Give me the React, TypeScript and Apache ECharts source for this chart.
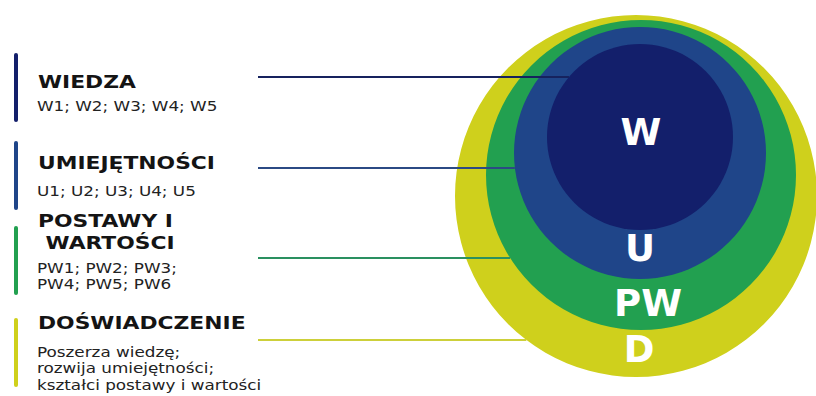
import React, { useEffect, useRef } from "react";
import * as echarts from "echarts";

// Competence levels, inner to outer
const codes = ["W", "U", "PW", "D"];
const titles = ["WIEDZA", "UMIEJĘTNOŚCI", "POSTAWY I\n WARTOŚCI", "DOŚWIADCZENIE"];
const details = [
  "W1; W2; W3; W4; W5",
  "U1; U2; U3; U4; U5",
  "PW1; PW2; PW3;\nPW4; PW5; PW6",
  "Poszerza wiedzę;\nrozwija umiejętności;\nkształci postawy i wartości",
];
// Circle geometry in diagram units (diagram spans 816 x 396 units)
const circleCenterX = [640, 640, 641, 636];
const circleCenterY = [137, 153, 175, 196];
const circleRadius = [93, 126, 155, 181];
const connectorY = [77, 168, 258, 340];
const codeLabelX = [641, 640, 648, 639];
const codeLabelY = [132, 248, 303, 349];

const FILL = ["#131f6b", "#1f4589", "#22a050", "#cfd01c"];
const LINE = ["#16225e", "#2b4a84", "#2a9060", "#cdd03a"];
const FONT = '"DejaVu Sans", "Noto Sans", sans-serif';

export default function App() {
  const ref = useRef<HTMLDivElement>(null);
  useEffect(() => {
    document.body.style.margin = "0";
    const chart = echarts.init(ref.current!, null, { renderer: "svg" });

    const data = codes
      .map((c, i) => [circleCenterX[i], circleCenterY[i], circleRadius[i], connectorY[i], codeLabelX[i], codeLabelY[i], i])
      .reverse();

    const titleY = [82, 163, 221, 323];
    const detailY = [106, 191, 268, 352];
    const barY = [
      [55, 120],
      [143, 208],
      [228, 293],
      [320, 385],
    ];
    const TITLE_LH = 22;
    const DETAIL_LH = 16.5;

    const graphics: any[] = [];
    codes.forEach((_, i) => {
      graphics.push({
        type: "line",
        silent: true,
        shape: { x1: 16, y1: barY[i][0], x2: 16, y2: barY[i][1] },
        style: { stroke: FILL[i], lineWidth: 4, lineCap: "round" },
      });
      graphics.push({
        type: "text",
        silent: true,
        x: 38,
        y: titleY[i] - TITLE_LH / 2,
        scaleX: 1.18,
        style: {
          text: titles[i],
          fill: "#141414",
          fontFamily: FONT,
          fontWeight: "bold",
          fontSize: 18.5,
          lineHeight: TITLE_LH,
          align: "left",
          verticalAlign: "top",
        },
      });
      graphics.push({
        type: "text",
        silent: true,
        x: 37,
        y: detailY[i] - DETAIL_LH / 2,
        scaleX: 1.2,
        style: {
          text: details[i],
          fill: "#222222",
          fontFamily: FONT,
          fontSize: 14,
          lineHeight: DETAIL_LH,
          align: "left",
          verticalAlign: "top",
        },
      });
    });

    chart.setOption({
      animation: false,
      grid: { left: 0, right: 0, top: 0, bottom: 0 },
      xAxis: { type: "value", min: 0, max: 816, show: false },
      yAxis: { type: "value", min: 0, max: 396, inverse: true, show: false },
      graphic: graphics,
      series: [
        {
          type: "custom",
          coordinateSystem: "cartesian2d",
          clip: false,
          silent: true,
          encode: { x: 0, y: 1 },
          data,
          renderItem: (params: any, api: any) => {
            const i = api.value(6);
            const c = api.coord([api.value(0), api.value(1)]);
            const r = api.size([api.value(2), 0])[0];
            const ly = api.coord([0, api.value(3)])[1];
            const startX = api.coord([258, 0])[0];
            const dy = ly - c[1];
            const endX = c[0] - Math.sqrt(Math.max(0, r * r - dy * dy));
            const lab = api.coord([api.value(4), api.value(5)]);
            return {
              type: "group",
              children: [
                { type: "circle", shape: { cx: c[0], cy: c[1], r }, style: { fill: FILL[i] } },
                {
                  type: "line",
                  shape: { x1: startX, y1: ly, x2: endX, y2: ly },
                  style: { stroke: LINE[i], lineWidth: 2 },
                },
                {
                  type: "text",
                  x: lab[0],
                  y: lab[1],
                  style: {
                    text: codes[i],
                    fill: "#ffffff",
                    fontFamily: FONT,
                    fontWeight: "bold",
                    fontSize: 37,
                    align: "center",
                    verticalAlign: "middle",
                  },
                },
              ],
            };
          },
        },
      ],
    });
    return () => chart.dispose();
  }, []);
  return <div ref={ref} style={{ width: 816, height: 396 }} />;
}
